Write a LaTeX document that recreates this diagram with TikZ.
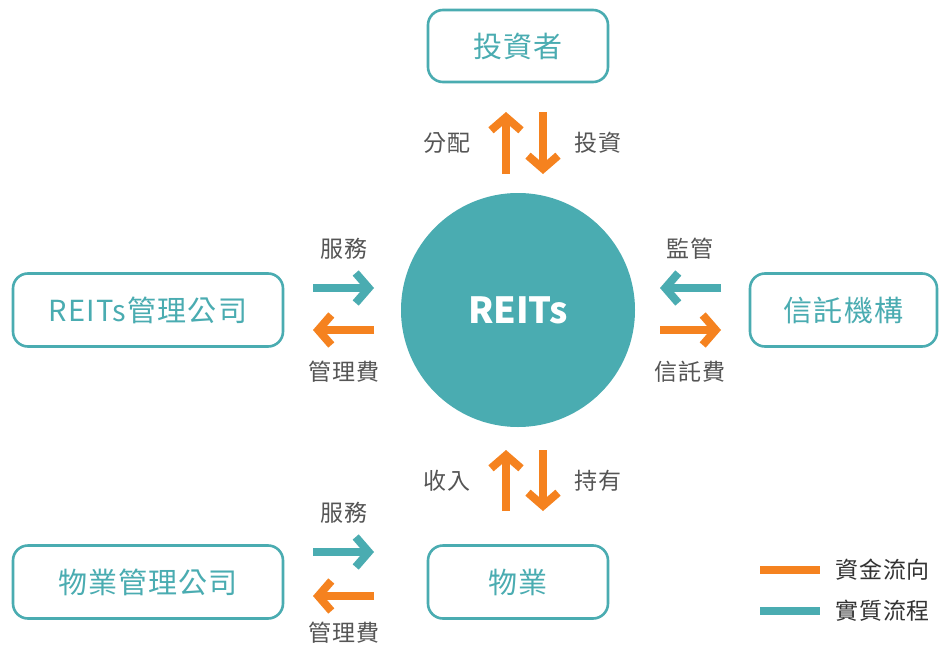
\documentclass[tikz,border=0pt]{standalone}
\usepackage{fontspec}
\setmainfont{Noto Sans CJK TC}
\usetikzlibrary{arrows.meta}
\definecolor{teal1}{HTML}{4AACB1}
\definecolor{orng}{HTML}{F5821F}
\definecolor{lblgray}{HTML}{555555}
\definecolor{leggray}{HTML}{333333}
\begin{document}
\begin{tikzpicture}[x=1pt,y=-1pt,
  box/.style={draw=teal1,line width=2.6pt,rounded corners=15pt,fill=white,text=teal1,
    font=\fontsize{29}{32}\selectfont\addfontfeature{LetterSpace=4},inner sep=0pt,anchor=center},
  lbl/.style={text=lblgray,font=\fontsize{23}{25}\selectfont\addfontfeature{LetterSpace=5},inner sep=0pt},
  leg/.style={text=leggray,font=\fontsize{23}{25}\selectfont\addfontfeature{LetterSpace=4},inner sep=0pt,anchor=west},
  flow/.style={line width=8pt,-{Straight Barb[length=13pt,width=30pt,line width=8pt]}},
  money/.style={flow,draw=orng},
  real/.style={flow,draw=teal1}]
\useasboundingbox[fill=white] (0,0) rectangle (943,648);
% nodes
\node[box,minimum width=180pt,minimum height=72pt] (inv) at (518,46) {投資者};
\node[box,minimum width=270pt,minimum height=73pt] (mgr) at (148,310) {REITs管理公司};
\node[box,minimum width=187pt,minimum height=73pt] (trust) at (843.5,310) {信託機構};
\node[box,minimum width=270pt,minimum height=73pt] (pmgr) at (148,582) {物業管理公司};
\node[box,minimum width=180pt,minimum height=73pt] (prop) at (518,582) {物業};
\node[circle,fill=teal1,minimum size=234pt,inner sep=0pt,text=white,
  font=\fontsize{36}{38}\selectfont\bfseries] (reit) at (518,310) {REITs};
% arrow coordinates
\coordinate (a1s) at (506,174); \coordinate (a1e) at (506,112);
\coordinate (a2s) at (543,112); \coordinate (a2e) at (543,174);
\coordinate (b1s) at (506,511); \coordinate (b1e) at (506,450);
\coordinate (b2s) at (543,450); \coordinate (b2e) at (543,511);
\coordinate (l1s) at (313,288); \coordinate (l1e) at (374,288);
\coordinate (l2s) at (374,330); \coordinate (l2e) at (313,330);
\coordinate (r1s) at (721,288); \coordinate (r1e) at (660,288);
\coordinate (r2s) at (660,330); \coordinate (r2e) at (721,330);
\coordinate (p1s) at (313,552); \coordinate (p1e) at (374,552);
\coordinate (p2s) at (374,596); \coordinate (p2e) at (313,596);
\draw[money] (a1s) -- (a1e);
\draw[money] (a2s) -- (a2e);
\draw[money] (b1s) -- (b1e);
\draw[money] (b2s) -- (b2e);
\draw[real] (l1s) -- (l1e);
\draw[money] (l2s) -- (l2e);
\draw[real] (r1s) -- (r1e);
\draw[money] (r2s) -- (r2e);
\draw[real] (p1s) -- (p1e);
\draw[money] (p2s) -- (p2e);
% labels
\node[lbl] (t1) at (447,143) {分配};
\node[lbl] (t2) at (598,143) {投資};
\node[lbl] (t3) at (447,481) {收入};
\node[lbl] (t4) at (598,481) {持有};
\node[lbl] (t5) at (344,249) {服務};
\node[lbl] (t6) at (344,372) {管理費};
\node[lbl] (t7) at (690,249) {監管};
\node[lbl] (t8) at (690,372) {信託費};
\node[lbl] (t9) at (344,513) {服務};
\node[lbl] (t10) at (344,633) {管理費};
% legend
\coordinate (g1a) at (760,570); \coordinate (g1b) at (820,570);
\coordinate (g2a) at (760,611); \coordinate (g2b) at (820,611);
\draw[orng,line width=8pt] (g1a) -- (g1b);
\draw[teal1,line width=8pt] (g2a) -- (g2b);
\node[leg] (lg1) at (835,570) {資金流向};
\node[leg] (lg2) at (835,611) {實質流程};
\end{tikzpicture}
\end{document}
